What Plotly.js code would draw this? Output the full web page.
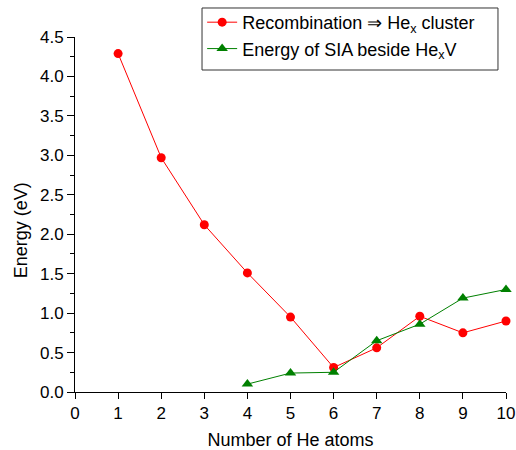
<!DOCTYPE html>
<html>
<head>
<meta charset="utf-8">
<script src="https://cdn.plot.ly/plotly-3.0.1.min.js"></script>
<style>html,body{margin:0;padding:0;background:#fff;}</style>
</head>
<body>
<div id="chart" style="width:516px;height:450px;"></div>
<script>
const heAtomsRecomb = [1, 2, 3, 4, 5, 6, 7, 8, 9, 10];
const recombEnergy = [4.29, 2.97, 2.12, 1.51, 0.95, 0.31, 0.56, 0.96, 0.75, 0.90];
const heAtomsSIA = [4, 5, 6, 7, 8, 9, 10];
const siaEnergy = [0.10, 0.24, 0.25, 0.65, 0.86, 1.19, 1.30];
const seriesNames = ["Recombination \u21D2 He<sub>x</sub> cluster", "Energy of SIA beside He<sub>x</sub>V"];
const xTitle = "Number of He atoms";
const yTitle = "Energy (eV)";

const font = "Liberation Sans, Arial, sans-serif";

const traces = [
  {
    x: heAtomsRecomb, y: recombEnergy, name: seriesNames[0],
    type: 'scatter', mode: 'lines+markers', cliponaxis: false,
    line: {color: '#ff0000', width: 1},
    marker: {symbol: 'circle', size: 9, color: '#ff0000'}
  },
  {
    x: heAtomsSIA, y: siaEnergy, name: seriesNames[1],
    type: 'scatter', mode: 'lines+markers', cliponaxis: false,
    line: {color: '#008000', width: 1},
    marker: {symbol: 'triangle-up', size: 10, color: '#008000'}
  }
];

const layout = {
  width: 516, height: 450,
  margin: {l: 75, r: 10, t: 37, b: 58, autoexpand: false},
  paper_bgcolor: '#fff', plot_bgcolor: '#fff',
  font: {family: font, size: 17, color: '#000'},
  showlegend: true,
  legend: {
    x: 0.295, y: 1.093, xanchor: 'left', yanchor: 'top',
    bgcolor: 'rgba(0,0,0,0)', borderwidth: 0,
    font: {family: font, size: 18, color: '#000'},
    itemwidth: 30,
    tracegroupgap: 0
  },
  shapes: [{
    type: 'rect', xref: 'paper', yref: 'paper',
    x0: 0.2947, x1: 0.9814, y0: 0.907, y1: 1.0817,
    line: {color: '#333', width: 1}, fillcolor: '#fff', layer: 'above'
  }],
  xaxis: {
    range: [0, 10], dtick: 1, tick0: 0,
    showgrid: false, zeroline: false,
    showline: true, linecolor: '#000', linewidth: 1,
    ticks: 'outside', ticklen: 6, tickcolor: '#000',
    tickfont: {family: font, size: 17},
    title: {text: xTitle, font: {family: font, size: 18}, standoff: 12}
  },
  yaxis: {
    range: [0, 4.5], dtick: 0.5, tick0: 0, tickformat: '.1f',
    showgrid: false, zeroline: false,
    showline: true, linecolor: '#000', linewidth: 1,
    ticks: 'outside', ticklen: 7, tickcolor: '#000',
    minor: {dtick: 0.25, ticks: 'outside', ticklen: 4, tickcolor: '#000', showgrid: false},
    tickfont: {family: font, size: 17}
  },
  annotations: [{
    text: yTitle, textangle: -90, showarrow: false,
    xref: 'paper', yref: 'paper', x: -0.125, y: 0.456,
    xanchor: 'center', yanchor: 'middle',
    font: {family: font, size: 18, color: '#000'}
  }]
};

Plotly.newPlot('chart', traces, layout, {displayModeBar: false, staticPlot: true});
</script>
</body>
</html>
